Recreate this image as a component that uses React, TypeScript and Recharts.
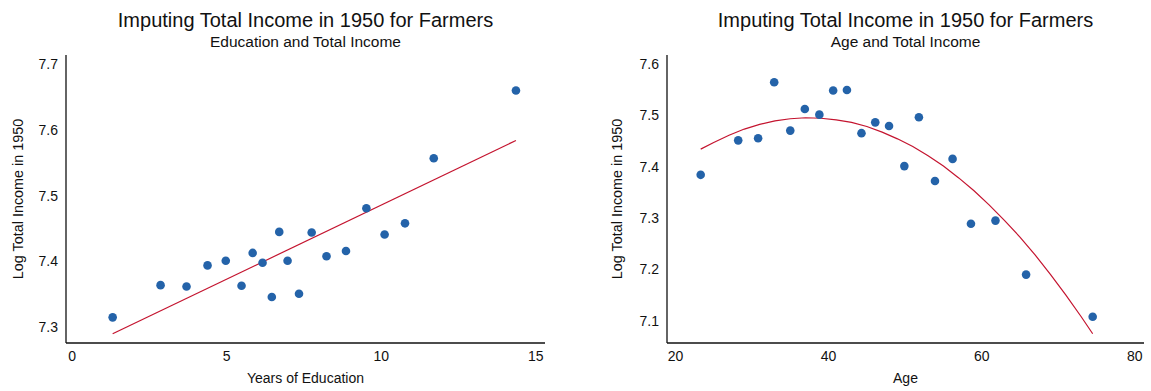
import { ScatterChart, Scatter, XAxis, YAxis } from "recharts"

// Left panel: years of education vs log income
const eduYears = [1.31, 2.86, 3.70, 4.38, 4.97, 5.48, 5.84, 6.16, 6.46, 6.70, 6.97, 7.34, 7.75, 8.23, 8.86, 9.52, 10.11, 10.77, 11.70, 14.36]
const eduIncome = [7.315, 7.364, 7.362, 7.394, 7.401, 7.363, 7.413, 7.398, 7.346, 7.445, 7.401, 7.351, 7.444, 7.408, 7.416, 7.481, 7.441, 7.458, 7.557, 7.66]
const eduFitX = [1.31, 14.36]
const eduFitY = [7.29, 7.584]
const eduXTicks = [0, 5, 10, 15]
const eduYTicks = [7.3, 7.4, 7.5, 7.6, 7.7]

// Right panel: age vs log income
const ageYears = [23.3, 28.2, 30.8, 32.9, 35.0, 36.9, 38.8, 40.6, 42.4, 44.3, 46.1, 47.9, 49.9, 51.8, 53.9, 56.2, 58.6, 61.8, 65.8, 74.5]
const ageIncome = [7.384, 7.451, 7.455, 7.564, 7.47, 7.512, 7.501, 7.548, 7.549, 7.465, 7.486, 7.479, 7.401, 7.496, 7.372, 7.415, 7.289, 7.295, 7.19, 7.108]
const ageFitX = [23.3, 25, 27, 29, 31, 33, 35, 37, 39, 41, 43, 45, 47, 49, 51, 53, 55, 57, 59, 61, 63, 65, 67, 69, 71, 73, 74.5]
const ageFitY = [7.434, 7.447, 7.461, 7.473, 7.482, 7.489, 7.493, 7.495, 7.494, 7.491, 7.486, 7.478, 7.467, 7.454, 7.439, 7.421, 7.401, 7.378, 7.353, 7.325, 7.295, 7.263, 7.228, 7.19, 7.15, 7.108, 7.075]
const ageXTicks = [20, 40, 60, 80]
const ageYTicks = [7.1, 7.2, 7.3, 7.4, 7.5, 7.6]

const FONT = "Arial, 'Liberation Sans', sans-serif"
const DOT = "#2463a9"
const FIT = "#c4142f"

const pts = (xs: number[], ys: number[]) => xs.map((x, i) => ({ x, y: ys[i] }))

const dot = (p: any) => <circle cx={p.cx} cy={p.cy} r={4.3} fill={DOT} />
const noDot = () => <g />

const yLabel = (text: string, x: number) => (props: any) => {
  const vb = props.viewBox
  const cy = vb.y + vb.height / 2
  return (
    <text x={x} y={cy} transform={`rotate(-90, ${x}, ${cy})`} textAnchor="middle" dominantBaseline="central"
      fontSize={14.4} fontFamily={FONT} fill="#111">{text}</text>
  )
}

const xLabel = (text: string) => (props: any) => {
  const vb = props.viewBox
  return (
    <text x={vb.x + vb.width / 2} y={vb.y + 40} textAnchor="middle"
      fontSize={14} fontFamily={FONT} fill="#111">{text}</text>
  )
}

interface PanelProps {
  width: number
  yAxisWidth: number
  right: number
  subtitle: string
  xName: string
  yLabelX: number
  points: { x: number; y: number }[]
  fit: { x: number; y: number }[]
  xDomain: [number, number]
  yDomain: [number, number]
  xTicks: number[]
  yTicks: number[]
}

function Panel(p: PanelProps) {
  const plotLeft = p.yAxisWidth
  const plotRight = p.width - p.right
  const center = (plotLeft + plotRight) / 2
  const tick = { fontSize: 14, fontFamily: FONT, fill: "#111" }
  return (
    <div style={{ position: "relative", width: p.width, height: 391 }}>
      <div style={{ position: "absolute", left: center - 300, width: 600, top: 9, textAlign: "center", fontFamily: FONT, fontSize: 20, color: "#111", lineHeight: "22px" }}>
        Imputing Total Income in 1950 for Farmers
      </div>
      <div style={{ position: "absolute", left: center - 300, width: 600, top: 33, textAlign: "center", fontFamily: FONT, fontSize: 15.5, color: "#111", lineHeight: "18px" }}>
        {p.subtitle}
      </div>
      <ScatterChart width={p.width} height={391} margin={{ top: 55, right: p.right, bottom: 8, left: 0 }}>
        <XAxis type="number" dataKey="x" domain={p.xDomain} ticks={p.xTicks} allowDataOverflow
          height={40} tickLine={false} axisLine={{ stroke: "#111", strokeWidth: 1.3 }} tick={tick}
          label={{ content: xLabel(p.xName) }} />
        <YAxis type="number" dataKey="y" domain={p.yDomain} ticks={p.yTicks} allowDataOverflow
          width={p.yAxisWidth} tickLine={false} axisLine={{ stroke: "#111", strokeWidth: 1.3 }} tick={tick}
          label={{ content: yLabel("Log Total Income in 1950", p.yLabelX) }} />
        <Scatter data={p.fit} line={{ stroke: FIT, strokeWidth: 1.2 }} shape={noDot} isAnimationActive={false} />
        <Scatter data={p.points} shape={dot} isAnimationActive={false} />
      </ScatterChart>
    </div>
  )
}

export default function App() {
  return (
    <div style={{ position: "absolute", left: 0, top: 0, width: 1151, height: 391, display: "flex", background: "#fff" }}>
      <Panel width={575} yAxisWidth={66} right={30} subtitle="Education and Total Income" xName="Years of Education"
        yLabelX={18} points={pts(eduYears, eduIncome)} fit={pts(eduFitX, eduFitY)}
        xDomain={[-0.2, 15.3]} yDomain={[7.276, 7.714]} xTicks={eduXTicks} yTicks={eduYTicks} />
      <Panel width={576} yAxisWidth={92} right={7} subtitle="Age and Total Income" xName="Age"
        yLabelX={42} points={pts(ageYears, ageIncome)} fit={pts(ageFitX, ageFitY)}
        xDomain={[18.9, 81.2]} yDomain={[7.057, 7.617]} xTicks={ageXTicks} yTicks={ageYTicks} />
    </div>
  )
}
